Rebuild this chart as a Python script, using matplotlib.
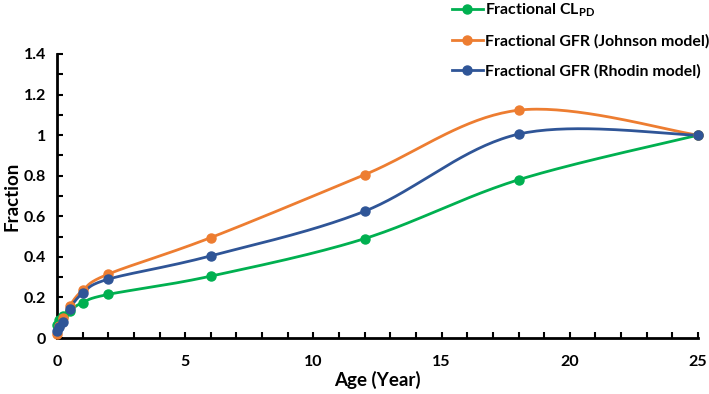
import numpy as np
import matplotlib
matplotlib.use("Agg")
import matplotlib.pyplot as plt
from matplotlib.ticker import MultipleLocator, FuncFormatter

# ---- data ----
age = [0, 0.083, 0.25, 0.5, 1, 2, 6, 12, 18, 25]
cl_pd = [0.065, 0.09, 0.11, 0.135, 0.175, 0.215, 0.305, 0.49, 0.78, 1.0]
gfr_johnson = [0.02, 0.06, 0.10, 0.16, 0.235, 0.315, 0.495, 0.805, 1.123, 1.0]
gfr_rhodin = [0.035, 0.055, 0.08, 0.145, 0.22, 0.29, 0.405, 0.625, 1.005, 1.0]
labels = [r"Fractional CL$_{\mathrm{PD}}$",
          "Fractional GFR (Johnson model)",
          "Fractional GFR (Rhodin model)"]
colors = ["#00B050", "#ED7D31", "#2F5597"]

plt.rcParams['font.family'] = ['Lato', 'DejaVu Sans']
plt.rcParams['font.weight'] = 'bold'
plt.rcParams['mathtext.fontset'] = 'custom'
plt.rcParams['mathtext.rm'] = 'Lato:bold'
plt.rcParams['mathtext.bf'] = 'Lato:bold'


def smooth(x, y, n=40):
    """Excel-like smoothed line: Catmull-Rom converted to cubic Bezier."""
    x = np.asarray(x, float)
    y = np.asarray(y, float)
    P = np.column_stack([x, y])
    out = []
    for i in range(len(P) - 1):
        p0 = P[i - 1] if i > 0 else P[i]
        p1 = P[i]
        p2 = P[i + 1]
        p3 = P[i + 2] if i + 2 < len(P) else P[i + 1]
        c1 = p1 + (p2 - p0) / 6.0
        c2 = p2 - (p3 - p1) / 6.0
        t = np.linspace(0, 1, n)[:, None]
        seg = ((1 - t) ** 3) * p1 + 3 * ((1 - t) ** 2) * t * c1 + 3 * (1 - t) * t ** 2 * c2 + t ** 3 * p2
        out.append(seg if i == 0 else seg[1:])
    out = np.vstack(out)
    return out[:, 0], out[:, 1]


fig = plt.figure(figsize=(7.09, 3.94), dpi=100)
ax = fig.add_axes([57 / 709, 1 - 338 / 394, (698 - 57) / 709, (338 - 54) / 394])

handles = []
for series, c, lab in zip([cl_pd, gfr_johnson, gfr_rhodin], colors, labels):
    sx, sy = smooth(age, series)
    ax.plot(sx, sy, color=c, lw=2, zorder=2, clip_on=False)
    ax.plot(age, series, 'o', color=c, ms=6.5, zorder=3, clip_on=False)
    h, = ax.plot([], [], '-o', color=c, lw=2, ms=6.5, label=lab)
    handles.append(h)

ax.set_xlim(0, 25)
ax.set_ylim(0, 1.4)
ax.xaxis.set_major_locator(MultipleLocator(5))
ax.xaxis.set_minor_locator(MultipleLocator(1))
ax.yaxis.set_major_locator(MultipleLocator(0.2))
ax.yaxis.set_minor_locator(MultipleLocator(0.1))
ax.yaxis.set_major_formatter(FuncFormatter(lambda v, p: f"{v:g}"))
ax.tick_params(which='both', direction='in', length=4, width=1.5, labelsize=11.5)
ax.tick_params(axis='x', pad=12)
ax.tick_params(axis='y', pad=8)
for s in ['top', 'right']:
    ax.spines[s].set_visible(False)
for s in ['left', 'bottom']:
    ax.spines[s].set_linewidth(2)
for lab in ax.get_xticklabels() + ax.get_yticklabels():
    lab.set_fontweight('bold')

ax.set_xlabel("Age (Year)", fontsize=13.5, fontweight='bold')
ax.set_ylabel("Fraction", fontsize=13.5, fontweight='bold')
ax.xaxis.set_label_coords(0.5, (338 - 371) / 284)
ax.yaxis.set_label_coords((21 - 57) / 641, 0.5)

fig.legend(handles=handles, loc='upper left', bbox_to_anchor=(442 / 709, 1.02),
           frameon=False, labelspacing=0.95, handlelength=2.0,
           handletextpad=0.12, borderaxespad=0.2, prop={'weight': 'bold', 'size': 11.4})

fig.savefig("out.png", dpi=100)
